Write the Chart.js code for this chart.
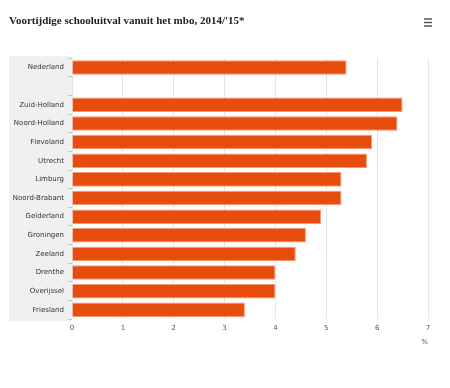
<!DOCTYPE html>
<html>
<head>
<meta charset="utf-8">
<script src="https://cdn.jsdelivr.net/npm/chart.js@4/dist/chart.umd.min.js"></script>
<style>
  html, body { margin: 0; padding: 0; background: #fff; }
  #wrap { width: 450px; height: 388px; }
</style>
</head>
<body>
<div id="wrap"><canvas id="chart"></canvas></div>
<script>
const regions = [
    'Nederland', '',
    'Zuid-Holland', 'Noord-Holland', 'Flevoland', 'Utrecht', 'Limburg', 'Noord-Brabant',
    'Gelderland', 'Groningen', 'Zeeland', 'Drenthe', 'Overijssel', 'Friesland'
];
const dropout = [
    5.4, null,
    6.5, 6.4, 5.9, 5.8, 5.3, 5.3,
    4.9, 4.6, 4.4, 4.0, 4.0, 3.4
];
const xTicks = [0, 1, 2, 3, 4, 5, 6, 7];

// grey band behind the category labels plus the menu icon
const decorPlugin = {
    id: 'decor',
    beforeDraw(chart) {
        const { ctx, chartArea } = chart;
        ctx.save();
        ctx.fillStyle = '#f0f0f0';
        ctx.fillRect(9, chartArea.top - 2, chartArea.left - 9, chartArea.bottom - chartArea.top + 4);
        ctx.strokeStyle = '#555';
        ctx.lineWidth = 1.5;
        [19, 22.5, 26].forEach(y => {
            ctx.beginPath();
            ctx.moveTo(424, y);
            ctx.lineTo(432, y);
            ctx.stroke();
        });
        ctx.restore();
    }
};

new Chart(document.getElementById('chart').getContext('2d'), {
    type: 'bar',
    data: {
        labels: regions,
        datasets: [{
            data: dropout,
            backgroundColor: '#e84c0c',
            borderColor: '#f39a75',
            borderWidth: 1,
            barPercentage: 0.78,
            categoryPercentage: 1
        }]
    },
    options: {
        indexAxis: 'y',
        responsive: true,
        maintainAspectRatio: false,
        animation: false,
        layout: { padding: { left: 9, right: 22, top: 0, bottom: 42 } },
        plugins: {
            legend: { display: false },
            tooltip: { enabled: false },
            title: {
                display: true,
                text: "Voortijdige schooluitval vanuit het mbo, 2014/'15*",
                align: 'start',
                color: '#222',
                font: { family: 'Liberation Serif', size: 11, weight: 'bold' },
                padding: { top: 15, bottom: 30 }
            }
        },
        scales: {
            x: {
                min: 0,
                max: 7,
                afterBuildTicks(scale) { scale.ticks = xTicks.map(v => ({ value: v })); },
                grid: { color: '#e6e6e6', drawTicks: false },
                border: { display: false },
                ticks: {
                    padding: 5,
                    color: '#555',
                    font: { family: 'DejaVu Sans', size: 7 }
                },
                title: {
                    display: true,
                    text: '%',
                    align: 'end',
                    color: '#555',
                    font: { family: 'DejaVu Sans', size: 7 },
                    padding: { top: 0, bottom: 0 }
                }
            },
            y: {
                afterFit(scale) { scale.width = 63; },
                grid: {
                    offset: true,
                    drawOnChartArea: false,
                    tickLength: 4,
                    color: '#c8c8c8'
                },
                border: { display: false },
                ticks: {
                    padding: 4,
                    color: '#333',
                    font: { family: 'DejaVu Sans', size: 7 }
                }
            }
        }
    },
    plugins: [ decorPlugin ]
});
</script>
</body>
</html>
